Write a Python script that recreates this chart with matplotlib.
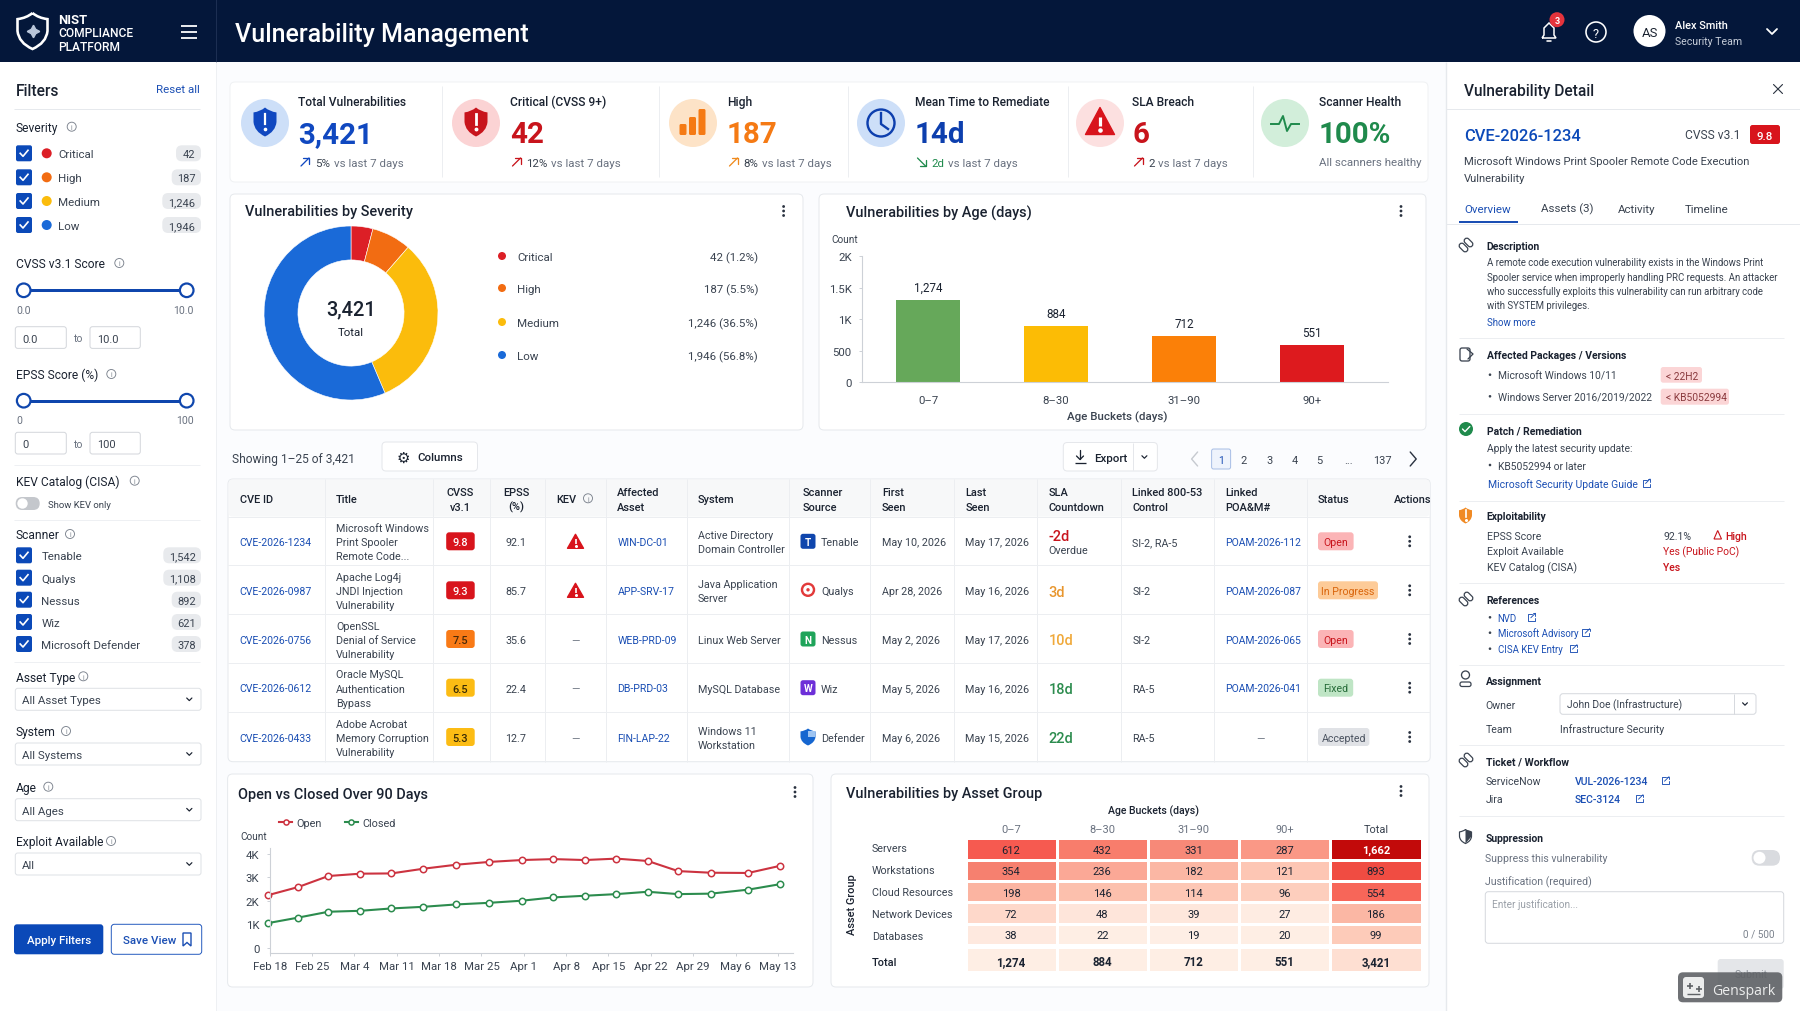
import matplotlib
matplotlib.use("Agg")
import matplotlib.pyplot as plt
from matplotlib.colors import LinearSegmentedColormap
from matplotlib.patches import Circle, FancyBboxPatch, PathPatch, Polygon, Rectangle
from matplotlib.path import Path
from matplotlib.transforms import Affine2D

plt.rcParams["font.family"] = ["Roboto", "DejaVu Sans"]

# ---- data ----
kpi_labels = ["Total Vulnerabilities", "Critical (CVSS 9+)", "High", "Mean Time to Remediate", "SLA Breach", "Scanner Health"]
kpi_values = ["3,421", "42", "187", "14d", "6", "100%"]
kpi_deltas = ["5%", "12%", "8%", "2d", "2", ""]

severity_names = ["Critical", "High", "Medium", "Low"]
severity_counts = ["42", "187", "1,246", "1,946"]
severity_labels = ["42 (1.2%)", "187 (5.5%)", "1,246 (36.5%)", "1,946 (56.8%)"]
severity_drawn = [14.6, 26.4, 116, 203]  # slice sweep as drawn in the picture, degrees
severity_colors = ["#dc1f26", "#f26c12", "#fbbc0c", "#1a6ad8"]

age_buckets = ["0–7", "8–30", "31–90", "90+"]
age_labels = ["1,274", "884", "712", "551"]
age_heights = [1311, 899, 740, 588]  # bar heights as drawn
age_colors = ["#66a85a", "#fcbc05", "#fb8008", "#dd1a1e"]

scanner_names = ["Tenable", "Qualys", "Nessus", "Wiz", "Microsoft Defender"]
scanner_counts = ["1,542", "1,108", "892", "621", "378"]

table_headers = [["CVE ID"], ["Title"], ["CVSS", "v3.1"], ["EPSS", "(%)"], ["KEV"], ["Affected", "Asset"], ["System"],
                 ["Scanner", "Source"], ["First", "Seen"], ["Last", "Seen"], ["SLA", "Countdown"],
                 ["Linked 800-53", "Control"], ["Linked", "POA&M#"], ["Status"], ["Actions"]]
cve_ids = ["CVE-2026-1234", "CVE-2026-0987", "CVE-2026-0756", "CVE-2026-0612", "CVE-2026-0433"]
cve_titles = [["Microsoft Windows", "Print Spooler", "Remote Code..."], ["Apache Log4j", "JNDI Injection", "Vulnerability"],
              ["OpenSSL", "Denial of Service", "Vulnerability"], ["Oracle MySQL", "Authentication", "Bypass"],
              ["Adobe Acrobat", "Memory Corruption", "Vulnerability"]]
cvss_scores = ["9.8", "9.3", "7.5", "6.5", "5.3"]
cvss_colors = ["#d8141c", "#d8141c", "#f97a16", "#fcbc14", "#fcbc14"]
cvss_text = ["white", "white", "#4a2a08", "#3a2c05", "#3a2c05"]
epss_scores = ["92.1", "85.7", "35.6", "22.4", "12.7"]
kev_flags = [True, True, False, False, False]
assets = ["WIN-DC-01", "APP-SRV-17", "WEB-PRD-09", "DB-PRD-03", "FIN-LAP-22"]
systems = [["Active Directory", "Domain Controller"], ["Java Application", "Server"], ["Linux Web Server"],
           ["MySQL Database"], ["Windows 11", "Workstation"]]
row_scanners = ["Tenable", "Qualys", "Nessus", "Wiz", "Defender"]
first_seen = ["May 10, 2026", "Apr 28, 2026", "May 2, 2026", "May 5, 2026", "May 6, 2026"]
last_seen = ["May 17, 2026", "May 16, 2026", "May 17, 2026", "May 16, 2026", "May 15, 2026"]
sla_days = ["-2d", "3d", "10d", "18d", "22d"]
sla_colors = ["#c8141c", "#e8962e", "#f0a93a", "#2c8c4e", "#2c8c4e"]
controls = ["SI-2, RA-5", "SI-2", "SI-2", "RA-5", "RA-5"]
poams = ["POAM-2026-112", "POAM-2026-087", "POAM-2026-065", "POAM-2026-041", "—"]
statuses = ["Open", "In Progress", "Open", "Fixed", "Accepted"]
status_fill = ["#fbb4b6", "#fdcb98", "#fbb4b6", "#bfe5c5", "#e0e2e6"]
status_text = ["#c8141c", "#d9650c", "#c8141c", "#256b38", "#4b5360"]

trend_ticks = ["Feb 18", "Feb 25", "Mar 4", "Mar 11", "Mar 18", "Mar 25", "Apr 1", "Apr 8", "Apr 15", "Apr 22", "Apr 29", "May 6", "May 13"]
trend_tick_days = [0, 7, 14, 21, 28, 35, 42, 49, 56, 63, 70, 77, 84]
trend_days = [-0.2, 4.7, 9.7, 15, 20.1, 25.4, 30.8, 36.3, 41.7, 46.9, 52.1, 57.3, 62.5, 67.5, 72.9, 79.1, 84.3]
trend_open = [2240, 2580, 3050, 3150, 3160, 3360, 3530, 3650, 3730, 3770, 3730, 3790, 3690, 3260, 3190, 3180, 3480]
trend_closed = [1050, 1280, 1530, 1570, 1670, 1740, 1840, 1910, 2000, 2140, 2210, 2280, 2380, 2280, 2300, 2470, 2700]

heat_rows = ["Servers", "Workstations", "Cloud Resources", "Network Devices", "Databases"]
heat_cols = ["0–7", "8–30", "31–90", "90+", "Total"]
heat_values = [[612, 432, 331, 287, 1662],
               [354, 236, 182, 121, 893],
               [198, 146, 114, 96, 554],
               [72, 48, 39, 27, 186],
               [38, 22, 19, 20, 99]]
heat_totals = ["1,274", "884", "712", "551", "3,421"]
heat_total_tone = [25, 25, 25, 25, 60]  # the total row is only lightly shaded

# ---- colours ----
NAVY = "#04173a"
INK = "#1a2230"
BODY = "#3a4350"
GREY = "#6a7280"
LINK = "#1b4fb4"
ROYAL = "#0b49b8"
EDGE = "#e6e9ed"
RED = "#c8141c"

fig = plt.figure(figsize=(18, 10.12), dpi=100, facecolor="#fbfcfe")
ui = fig.add_axes([0, 0, 1, 1])
ui.set_xlim(0, 1800)
ui.set_ylim(1012, 0)
ui.axis("off")
rend = fig.canvas.get_renderer()


def txt(x, y, s, px=11, color=INK, weight="normal", ha="left", **kw):
    # baseline placement, so brackets and descenders do not move a line up or down
    if "rotation" in kw:
        return ui.text(x, y + 1, s, fontsize=px * 0.72, color=color, fontweight=weight, ha=ha, va="center", **kw)
    return ui.text(x, y + 1 + 0.36 * px, s, fontsize=px * 0.72, color=color, fontweight=weight, ha=ha, va="baseline", **kw)


def rrect(x0, y0, x1, y1, r=3, fc="white", ec="none", lw=1, **kw):
    p = FancyBboxPatch((x0, y0), x1 - x0, y1 - y0, boxstyle=f"round,pad=0,rounding_size={r}",
                       fc=fc, ec=ec, lw=lw * 0.72, **kw)
    ui.add_patch(p)
    return p


def hline(x0, x1, y, color=EDGE, lw=1):
    ui.plot([x0, x1], [y, y], color=color, lw=lw * 0.72, solid_capstyle="butt")


def vline(x, y0, y1, color=EDGE, lw=1):
    ui.plot([x, x], [y0, y1], color=color, lw=lw * 0.72, solid_capstyle="butt")


def stroke(xs, ys, color, lw=1.5):
    ui.plot(xs, ys, color=color, lw=lw * 0.72, solid_capstyle="round", solid_joinstyle="round")


def dot(x, y, r, fc, ec="none", lw=1, z=3):
    ui.add_patch(Circle((x, y), r, fc=fc, ec=ec, lw=lw * 0.72, zorder=z))


def chevron(x, y, s=3, color=INK, lw=1.5):
    stroke([x - s, x, x + s], [y - s * 0.5, y + s * 0.5, y - s * 0.5], color, lw)


def info(x, y, r=4.5):
    dot(x, y, r, "none", "#7b828d", 0.9)
    txt(x, y - 1, "i", r * 1.5, "#7b828d", ha="center")


def kebab(x, y):
    for d in (-4.5, 0, 4.5):
        dot(x, y + d, 1.4, "#2a3240")


def ext(x, y, color=LINK):
    stroke([x + 1, x - 3.5, x - 3.5, x + 3.5, x + 3.5], [y - 3.5, y - 3.5, y + 3.5, y + 3.5, y + 0.5], color, 0.9)
    stroke([x - 0.5, x + 4], [y + 0.5, y - 4], color, 0.9)
    stroke([x + 1.5, x + 4, x + 4], [y - 4, y - 4, y - 1.5], color, 0.9)


def shield(cx, cy, w, h, fc, ec="none", lw=1, z=3):
    v = [(0, -.5), (.2, -.36), (.5, -.33), (.5, 0), (.46, .33), (0, .5), (-.46, .33), (-.5, 0), (-.5, -.33), (-.2, -.36), (0, -.5)]
    c = [Path.MOVETO, Path.CURVE3, Path.CURVE3, Path.LINETO, Path.CURVE3, Path.CURVE3, Path.CURVE3, Path.CURVE3, Path.LINETO, Path.CURVE3, Path.CURVE3]
    ui.add_patch(PathPatch(Path([(cx + a * w, cy + b * h) for a, b in v], c), fc=fc, ec=ec, lw=lw * 0.72, zorder=z))


def warn(cx, cy, w, h, fc="#d8141c", mark="white"):
    ui.add_patch(Polygon([(cx, cy - h / 2), (cx + w / 2, cy + h / 2), (cx - w / 2, cy + h / 2)], closed=True,
                         fc=fc, ec=fc, lw=1, joinstyle="round", zorder=3))
    ui.plot([cx, cx], [cy - h * 0.16, cy + h * 0.17], color=mark, lw=h * 0.085, zorder=4, solid_capstyle="butt")
    ui.plot([cx], [cy + h * 0.34], "o", color=mark, ms=h * 0.085, zorder=4)


def check(x, y):
    rrect(x - 8, y - 8, x + 8, y + 8, 2, fc=ROYAL, zorder=3)
    ui.plot([x - 3.8, x - 1, x + 4], [y, y + 3, y - 3], color="white", lw=1.2, zorder=4)


def pill(right, y, s, left):
    rrect(left, y - 7, right, y + 9, 6, fc="#e8eaed")
    txt((left + right) / 2, y, s, 11, BODY, ha="center")


def axes_px(l, t, r, b):
    a = fig.add_axes([l / 1800, 1 - b / 1012, (r - l) / 1800, (b - t) / 1012])
    a.patch.set_alpha(0)
    return a


def style_axis(a):
    a.spines[["top", "right"]].set_visible(False)
    a.spines[["left", "bottom"]].set_color("#cdd1d7")
    a.tick_params(colors="#cdd1d7", labelcolor=BODY, labelsize=8.2, length=2.5, width=0.7)


# ---- header ----
ui.add_patch(Rectangle((0, 0), 1800, 62.5, fc=NAVY, ec="none"))
vline(216, 0, 62.5, "#1c2e52")
shield(32.5, 32, 30, 36, NAVY, "white", 2.6)
ui.plot([32.5], [32], marker=(4, 1, 0), color="#b9c6da", ms=9, zorder=4)
stroke([23, 29, 32, 35, 42], [34, 34, 30, 36, 34], "#b9c6da", 1)
txt(58, 18, "NIST", 13, "white", "bold")
txt(58, 32, "COMPLIANCE", 12, "white", "medium")
txt(58, 46, "PLATFORM", 12, "white", "medium")
for d in (-6, 0, 6):
    hline(181, 197, 33 + d, "white", 1.8)
txt(235, 32, "Vulnerability Management", 25, "white", "medium")

# bell, help and user block
ui.add_patch(PathPatch(Path([(1542, 39), (1544, 36), (1544, 29), (1549, 24), (1554, 29), (1554, 36), (1556, 39), (1542, 39)]),
                       fc="none", ec="white", lw=1.1))
stroke([1547, 1551], [42, 42], "white", 1.6)
dot(1557, 20.7, 7.5, "#e5333c")
txt(1557, 19.7, "3", 9, "white", "bold", ha="center", zorder=5)
dot(1596, 33, 10, "none", "white", 1.6)
txt(1596, 32, "?", 13, "white", ha="center")
dot(1649.5, 32, 16, "white")
txt(1649.5, 31.5, "AS", 13, "#1a2230", ha="center", zorder=5)
txt(1675, 24, "Alex Smith", 11, "white", "medium")
txt(1675, 40, "Security Team", 10.5, "#c5ccd8")
chevron(1772, 32.5, 5, "white", 1.8)

# ---- left filter panel ----
ui.add_patch(Rectangle((0, 62.5), 216, 950, fc="white", ec="none"))
vline(216, 62.5, 1012, "#eef0f3")
txt(16, 89, "Filters", 15.5, INK, "medium")
txt(200, 88, "Reset all", 11.5, LINK, ha="right")
hline(14, 200, 110)

txt(16, 126.7, "Severity", 12, INK)
info(71.7, 127.7)
for y, name, n, col, left in zip([154.3, 178.3, 202, 226], severity_names, severity_counts, severity_colors, [176, 171.7, 162.3, 162.3]):
    check(24, y)
    dot(46.7, y, 5, col)
    txt(58, y - 1, name, 11.5, BODY)
    pill(201, y - 1, n, left)

for y, label, ix in [(264, "CVSS v3.1 Score", 119.3), (375, "EPSS Score (%)", 111.3), (481.7, "KEV Catalog (CISA)", 134.7)]:
    txt(16, y - 1, label, 12, INK)
    info(ix, y)
for y, lo, hi, ly, ty0 in [(291.3, "0.0", "10.0", 310.7, 327.7), (401.7, "0", "100", 420.3, 433.3)]:
    hline(23.7, 186.7, y, "#0f46ad", 3)
    dot(23.7, y, 6.8, "white", "#0f46ad", 2.2)
    dot(186.7, y, 6.8, "white", "#0f46ad", 2.2)
    txt(16, ly - 1, lo, 10.5, GREY)
    txt(194, ly - 1, hi, 10.5, GREY, ha="right")
    rrect(15.3, ty0, 66.3, ty0 + 21.7, 2.5, ec="#d4d7dc")
    rrect(90, ty0, 140.3, ty0 + 21.7, 2.5, ec="#d4d7dc")
    txt(22.7, ty0 + 10, lo, 11, BODY)
    txt(77.7, ty0 + 10, "to", 10.5, GREY, ha="center")
    txt(97.3, ty0 + 10, hi, 11, BODY)
hline(14, 200, 465.7, "#eef0f3")
rrect(15.7, 498, 39.7, 511, 6.5, fc="#c4c7cc")
dot(22.5, 504.5, 5.2, "white")
txt(47.7, 503.7, "Show KEV only", 9.5, BODY)
hline(14, 200, 520.7, "#eef0f3")

txt(16, 534, "Scanner", 12, INK)
info(70, 535)
for y, name, n, left in zip([556.3, 578.7, 600.7, 623, 645], scanner_names, scanner_counts, [163.3, 163.3, 171.7, 171.7, 171.7]):
    check(24, y)
    txt(41.3, y - 1, name, 11.5, BODY)
    pill(201, y - 1, n, left)
hline(14, 200, 663.3, "#eef0f3")

for y, label, ix, val in [(677.3, "Asset Type", 83.3, "All Asset Types"), (732, "System", 66, "All Systems"),
                          (787.7, "Age", 48.3, "All Ages"), (842, "Exploit Available", 111, "All")]:
    txt(16, y - 1, label, 12, INK)
    info(ix, y)
    rrect(15.3, y + 12, 201, y + 34, 2.5, ec="#dfe2e6")
    txt(22, y + 22, val, 11.5, BODY)
    chevron(189.3, y + 23, 2.6, INK, 1.2)

rrect(14, 925.3, 103.3, 955.3, 3, fc=ROYAL)
txt(58.7, 939.3, "Apply Filters", 11.5, "white", "medium", ha="center")
rrect(111.3, 925.3, 201.7, 955.3, 3, ec="#2a5fc0")
txt(122.7, 939.3, "Save View", 11.5, LINK, "medium")
ui.add_patch(Polygon([(183, 934), (191, 934), (191, 947), (187, 943.5), (183, 947)], closed=True, fc="none", ec=LINK, lw=1))

# ---- KPI strip ----
rrect(230, 83, 1428, 183, 5, ec="#f0f2f4")
for x in [442, 659, 848, 1068, 1253]:
    vline(x, 87, 178, "#eceef1")
kpi_x = [298.5, 510, 727, 915, 1132, 1319]
circle_x = [265, 476, 693, 881, 1100, 1285]
circle_fill = ["#cddff8", "#fbd3d4", "#fde3c7", "#cddff8", "#fce0e0", "#d2eeda"]
value_col = ["#1048c0", "#c8141c", "#f57a14", "#0d3fae", "#c8141c", "#1f8a4c"]
delta_col = ["#1048c0", "#c8141c", "#ef8a1e", "#1f8a4c", "#c8141c", ""]
for i in range(6):
    dot(circle_x[i], 124, 24, circle_fill[i], z=2)
    txt(kpi_x[i], 100.7, kpi_labels[i], 12, INK, "medium")
    txt(kpi_x[i], 131, kpi_values[i], 29.5, value_col[i], "bold")
    if kpi_deltas[i]:
        ax0 = kpi_x[i] + 1.5
        xs = [ax0 + 1, ax0 + 9]
        if i == 3:
            stroke(xs, [159, 167], delta_col[i], 1.3)
            stroke([ax0 + 3, ax0 + 9, ax0 + 9], [167, 167, 161], delta_col[i], 1.3)
        else:
            stroke(xs, [167, 159], delta_col[i], 1.3)
            stroke([ax0 + 3, ax0 + 9, ax0 + 9], [159, 159, 165], delta_col[i], 1.3)
        t = txt(ax0 + 15, 162, kpi_deltas[i], 11.5, delta_col[i] if i == 3 else BODY)
        x_end = ui.transData.inverted().transform(t.get_window_extent(rend))[1][0]
        txt(x_end + 3.5, 162, "vs last 7 days", 11.5, GREY)
txt(kpi_x[5], 161, "All scanners healthy", 11.5, GREY)

shield(265, 123, 23, 29, "#1048c0", z=4)
ui.plot([265, 265], [115, 125], color="white", lw=1.6, zorder=5)
ui.plot([265], [129.5], "o", color="white", ms=1.6, zorder=5)
shield(476, 123, 23, 29, "#c8141c", z=4)
ui.plot([476, 476], [115, 125], color="white", lw=2, zorder=5)
ui.plot([476], [129.5], "o", color="white", ms=1.8, zorder=5)
for x, top in zip([683, 692.5, 702], [125, 118, 110]):
    rrect(x - 3.5, top, x + 3.5, 136, 1.5, fc="#f57a14", zorder=4)
dot(881, 124, 13.5, "none", "#0d3fae", 2.4, z=4)
ui.plot([881, 881, 888], [114, 125, 130], color="#0d3fae", lw=1.7, zorder=5)
warn(1100, 122, 29, 27)
ui.plot([1271, 1279, 1283, 1287, 1291, 1299], [125, 125, 117, 132, 125, 125], color="#1f8a4c", lw=1.4, zorder=5)

# ---- severity donut ----
rrect(230, 195, 803, 431, 5, ec=EDGE)
txt(245, 210, "Vulnerabilities by Severity", 14.5, INK, "medium")
kebab(783.6, 212)
ax_donut = axes_px(351 - 87, 314 - 87, 351 + 87, 314 + 87)
ax_donut.pie(severity_drawn, colors=severity_colors, startangle=90, counterclock=False, radius=1,
             wedgeprops=dict(width=0.39, edgecolor="white", linewidth=0.4))
ax_donut.set_xlim(-1, 1)
ax_donut.set_ylim(-1, 1)
txt(351, 307, "3,421", 20, INK, "medium", ha="center")
txt(351, 331, "Total", 11.5, INK, ha="center")
for y, name, lab, col in zip([257, 289, 323, 356], severity_names, severity_labels, severity_colors):
    dot(502, y, 4, col)
    txt(517, y - 1, name, 11.5, BODY)
    txt(758, y - 1, lab, 11.5, BODY, ha="right")

# ---- age bars ----
rrect(819, 195, 1426, 431, 5, ec=EDGE)
txt(846, 211, "Vulnerabilities by Age (days)", 14.5, INK, "medium")
kebab(1401, 212)
txt(845, 238, "Count", 10, BODY, ha="center")
ax_age = axes_px(862, 257.3, 1388, 383.3)
ax_age.bar(range(4), age_heights, width=0.5, color=age_colors)
ax_age.set_xlim(-0.516, 3.594)
ax_age.set_ylim(0, 2000)
ax_age.set_yticks([0, 500, 1000, 1500, 2000], ["0", "500", "1K", "1.5K", "2K"])
ax_age.set_xticks(range(4), age_buckets)
style_axis(ax_age)
ax_age.tick_params(axis="x", length=0, pad=9)
ax_age.tick_params(axis="y", pad=5)
for i, lab in enumerate(age_labels):
    ax_age.annotate(lab, (i, age_heights[i]), xytext=(0, 10), textcoords="offset points", ha="center", va="center_baseline",
                    fontsize=8.4, color=INK)
txt(1117, 415, "Age Buckets (days)", 11.5, BODY, "medium", ha="center")

# ---- table toolbar ----
txt(232, 458, "Showing 1–25 of 3,421", 12, BODY)
rrect(382, 443, 477.5, 472, 4, ec="#e5e7eb")
txt(403, 456, "⚙", 15, INK, ha="center", family="DejaVu Sans")
txt(417, 456, "Columns", 11.5, INK, "medium")
rrect(1063.3, 443.5, 1157.4, 472, 4, ec="#e5e7eb")
stroke([1080, 1080], [451, 460], INK, 1.3)
stroke([1076.5, 1080, 1083.5], [457, 460.5, 457], INK, 1.3)
hline(1074.5, 1085.5, 464, INK, 1.3)
txt(1093.7, 457, "Export", 11.5, INK, "medium")
vline(1132.9, 444, 471, "#e5e7eb")
chevron(1144.4, 458, 2.5, INK, 1.2)
stroke([1197.6, 1191.6, 1197.6], [453, 460, 467], "#c6cad0", 1.4)
rrect(1211.6, 450, 1230.6, 470, 2, fc="#eef3fc", ec="#a9bfe6")
txt(1221, 459, "1", 10.5, LINK, ha="center")
for x, s in zip([1244, 1269.3, 1295, 1319.5, 1348.4, 1382], ["2", "3", "4", "5", "...", "137"]):
    txt(x, 459, s, 11, BODY, ha="center")
stroke([1410.2, 1416.2, 1410.2], [453, 460, 467], "#2a3240", 1.4)

# ---- findings table ----
TABLE_R = 1430.2
rrect(228, 480, TABLE_R, 762.7, 5, ec=EDGE)
ui.add_patch(FancyBboxPatch((228.5, 480.5), TABLE_R - 229, 37, boxstyle="round,pad=0,rounding_size=4", fc="#f7f8f9", ec="none"))
col_lines = [325, 432.7, 489.7, 544.6, 606.3, 686.6, 788.6, 870, 953.8, 1036.8, 1121.4, 1213.6, 1306.5]
row_lines = [517.7, 566.3, 615.3, 663.7, 713]
row_y = [542.3, 591.3, 640, 688.7, 738]
for x in col_lines:
    vline(x, 480, 762.7, "#eceef1")
for y in row_lines:
    hline(228, TABLE_R, y, "#eceef1")
head_x = [239.8, 336, 460.4, 516.6, 556, 617.4, 697.7, 802.4, 881.8, 965.2, 1048.3, 1132.5, 1225, 1318, 1393.5]
for i, (x, h) in enumerate(zip(head_x, table_headers)):
    ha = "center" if i in (2, 3) else "left"
    if len(h) == 2:
        txt(x, 490.7, h[0], 11, INK, "medium", ha=ha)
        txt(x, 505.7, h[1], 11, INK, "medium", ha=ha)
    else:
        txt(x, 498.3, h[0], 11, INK, "medium", ha=ha)
info(588, 499.3)

status_w = [35.6, 60, 35.6, 35.2, 51.4]
for i, y in enumerate(row_y):
    y0 = y - 1
    txt(239.8, y0, cve_ids[i], 10.5, LINK)
    for k, line in enumerate(cve_titles[i]):
        txt(336, y0 + (k - 1) * 14.1, line, 10.8, BODY)
    rrect(446.2, y - 9, 474.7, y + 9, 3, fc=cvss_colors[i])
    txt(460.4, y0, cvss_scores[i], 11, cvss_text[i], "medium", ha="center")
    txt(516, y0, epss_scores[i], 10.8, BODY, ha="center")
    if kev_flags[i]:
        warn(575.5, y, 16, 14)
    else:
        txt(575.5, y0, "—", 10.8, GREY, ha="center")
    txt(617.4, y0, assets[i], 10.5, LINK)
    lines = systems[i]
    for k, line in enumerate(lines):
        txt(697.7, y0 + (k - (len(lines) - 1) / 2) * 14.1, line, 10.8, BODY)
    txt(821, y0, row_scanners[i], 10.8, BODY)
    txt(881.8, y0, first_seen[i], 10.8, BODY)
    txt(965.2, y0, last_seen[i], 10.8, BODY)
    if i == 0:
        txt(1048.3, y0 - 6.5, sla_days[i], 14.5, sla_colors[i], "medium")
        txt(1048.3, y0 + 8, "Overdue", 10.8, BODY)
    else:
        txt(1048.3, y0, sla_days[i], 14.5, sla_colors[i], "medium")
    txt(1132.5, y0, controls[i], 10.8, BODY)
    if poams[i] == "—":
        txt(1260.2, y0, "—", 10.8, GREY, ha="center")
    else:
        txt(1225, y0, poams[i], 10.4, LINK)
    rrect(1318, y - 9, 1318 + status_w[i], y + 9, 3, fc=status_fill[i])
    txt(1318 + status_w[i] / 2, y0, statuses[i], 10.5, status_text[i], ha="center")
    kebab(1409.7, y)

# scanner badges
for y, col, s in zip(row_y[:1] + row_y[2:4], ["#0f46ad", "#1fa45a", "#6d2fd8"], ["T", "N", "W"]):
    rrect(800.5, y - 7.5, 815.5, y + 7.5, 2.5, fc=col, zorder=3)
    txt(808, y - 1, s, 10, "white", "bold", ha="center", zorder=4)
dot(808, row_y[1] - 0.5, 6, "white", "#e23a3a", 2.4)
dot(808, row_y[1] - 0.5, 1.7, "#e23a3a", z=4)
shield(808, row_y[4], 15, 17, "#1566d0")
ui.add_patch(Rectangle((808, row_y[4] - 6), 6.5, 6, fc="#9dc4f2", ec="none", zorder=4))

# ---- open vs closed ----
rrect(227.6, 775, 813, 988, 5, ec=EDGE)
txt(238.4, 793, "Open vs Closed Over 90 Days", 14.5, INK, "medium")
kebab(795, 793)
RED_LINE = "#cc3340"
GREEN_LINE = "#2c8c4e"
ax_trend = axes_px(269.7, 848.7, 793, 953.7)
ax_trend.plot(trend_days, trend_open, color=RED_LINE, lw=1.5, marker="o", ms=4.6, mfc="white", mew=1.1, clip_on=False, label="Open")
ax_trend.plot(trend_days, trend_closed, color=GREEN_LINE, lw=1.5, marker="o", ms=4.6, mfc="white", mew=1.1, clip_on=False, label="Closed")
ax_trend.set_xlim(0, 86.5)
ax_trend.set_ylim(-213, 4255)
ax_trend.set_yticks([0, 1000, 2000, 3000, 4000], ["0", "1K", "2K", "3K", "4K"])
ax_trend.set_xticks(trend_tick_days, trend_ticks)
style_axis(ax_trend)
ax_trend.tick_params(axis="x", pad=3.5)
ax_trend.tick_params(axis="y", pad=5)
ax_trend.legend(loc="lower left", bbox_to_anchor=(0.018, 1.19), ncol=2, frameon=False, fontsize=7.8, handlelength=1.2,
                columnspacing=2.1, handletextpad=0.4, borderpad=0, borderaxespad=0, labelcolor=BODY, markerscale=0.8)
txt(240.7, 835.7, "Count", 10, BODY)

# ---- asset group heatmap ----
rrect(831, 775, 1429, 988, 5, ec=EDGE)
txt(846, 791.7, "Vulnerabilities by Asset Group", 14.5, INK, "medium")
kebab(1401, 792)
txt(1154, 809.7, "Age Buckets (days)", 10.5, INK, "medium", ha="center")
heat_nodes = [(0, "#ffefe6"), (0.012, "#feeee4"), (0.03, "#fee3d8"), (0.06, "#fdcab8"), (0.12, "#fbb3a0"), (0.17, "#fa9a88"),
              (0.21, "#f6806f"), (0.26, "#f87d6c"), (0.37, "#f65a50"), (0.54, "#f04c42"), (1, "#c20a0a")]
heat_cmap = LinearSegmentedColormap.from_list("heat", heat_nodes)
ax_heat = axes_px(965.5, 839.3, 1421.5, 946)
ax_heat.pcolormesh(heat_values, cmap=heat_cmap, vmin=0, vmax=1662, edgecolors="white", linewidth=1)
ax_heat.invert_yaxis()
ax_heat.axis("off")
for r, row in enumerate(heat_values):
    for c, v in enumerate(row):
        ax_heat.text(c + 0.5, r + 0.5, f"{v:,}", ha="center", va="center_baseline", fontsize=8,
                     color="white" if v > 1000 else INK, fontweight="bold" if v > 1000 else "normal")
ax_total = axes_px(965.5, 948, 1421.5, 973.3)
ax_total.pcolormesh([heat_total_tone], cmap=heat_cmap, vmin=0, vmax=1662, edgecolors="white", linewidth=1)
ax_total.axis("off")
for c, s in enumerate(heat_totals):
    ax_total.text(c + 0.5, 0.5, s, ha="center", va="center_baseline", fontsize=8.3, color=INK, fontweight="bold")
for c, s in enumerate(heat_cols):
    txt(965.5 + 91.2 * (c + 0.5), 827.7, s, 11, GREY if c < 4 else BODY, ha="center")
for y, s in zip([847.7, 870, 892, 914, 936], heat_rows):
    txt(871.8, y - 1, s, 10.8, BODY)
txt(871.8, 960.7, "Total", 11, INK, "medium")
txt(851.6, 904, "Asset Group", 11, INK, "medium", ha="center", rotation=90)

# ---- detail panel ----
ui.add_patch(Rectangle((1446, 62.5), 354, 950, fc="white", ec="none"))
vline(1445.5, 62.5, 1012, "#e6e9ed", 1.4)
txt(1464, 89, "Vulnerability Detail", 15.5, INK, "medium")
stroke([1773.5, 1782.5], [85.5, 94.5], "#2a3240", 1.1)
stroke([1773.5, 1782.5], [94.5, 85.5], "#2a3240", 1.1)
hline(1446, 1800, 110)
txt(1464, 133.7, "CVE-2026-1234", 16.5, ROYAL, "medium")
txt(1740, 134, "CVSS v3.1", 12, BODY, ha="right")
rrect(1750, 126, 1780, 145, 2.5, fc="#d8141c")
txt(1765, 134.5, "9.8", 11.5, "white", "medium", ha="center")
txt(1464, 160.3, "Microsoft Windows Print Spooler Remote Code Execution", 11.3, BODY)
txt(1464, 177, "Vulnerability", 11.3, BODY)
for x, s, c in zip([1464.3, 1540.7, 1618, 1685], ["Overview", "Assets (3)", "Activity", "Timeline"], [LINK, BODY, BODY, BODY]):
    txt(x, 207.7, s, 11.5, c)
hline(1446, 1800, 224.5)
hline(1459, 1517.7, 223.3, LINK, 2)


def section(y, s, x=1486.7):
    txt(x, y - 1, s, 10.4, INK, "bold")


def link_icon(y):
    # two rotated loops for the chain glyph
    for cx, cy in [(1463.5, y + 2.5), (1468.5, y - 2.5)]:
        tr = Affine2D().rotate_deg_around(cx, cy, 45) + ui.transData
        ui.add_patch(FancyBboxPatch((cx - 5, cy - 2.6), 10, 5.2, boxstyle="round,pad=0,rounding_size=2.6", fc="none",
                                    ec="#3a4350", lw=0.9, transform=tr))


divider_y = [339.3, 414.7, 502.3, 584.3, 666, 745.7, 817.3]
for y in divider_y:
    hline(1458.5, 1784, y, "#eceef1")

link_icon(246)
section(246, "Description")
for y, s in zip([263, 277.7, 292, 306], ["A remote code execution vulnerability exists in the Windows Print",
                                         "Spooler service when improperly handling PRC requests. An attacker",
                                         "who successfully exploits this vulnerability can run arbitrary code",
                                         "with SYSTEM privileges."]):
    txt(1486.7, y - 1, s, 9.6, BODY)
txt(1486.7, 321.3, "Show more", 9.8, LINK)

rrect(1460, 349, 1470, 362, 2, ec="#3a4350", lw=1.3)
stroke([1467, 1473, 1468], [350, 355, 360], "#3a4350", 1.3)
section(355.7, "Affected Packages / Versions")
for y, s in zip([375.7, 397.3], ["Microsoft Windows 10/11", "Windows Server 2016/2019/2022"]):
    dot(1490, y, 1.3, BODY)
    txt(1498, y - 1, s, 10.2, BODY)
rrect(1660.7, 368, 1702, 383.7, 2.5, fc="#fbd5d6")
txt(1666, 375, "< 22H2", 10.2, "#8a3a3e")
rrect(1660.7, 389.7, 1729, 405.7, 2.5, fc="#fbd5d6")
txt(1666, 396.7, "< KB5052994", 10.2, "#8a3a3e")

dot(1466, 430, 7, "#1f8a4c")
stroke([1462.5, 1465, 1469.8], [430, 432.6, 427.5], "white", 1.4)
ui.lines[-1].set_zorder(5)
section(430.3, "Patch / Remediation")
txt(1486.7, 447.7, "Apply the latest security update:", 10.2, BODY)
dot(1490, 466, 1.3, BODY)
txt(1498, 465, "KB5052994 or later", 10.2, BODY)
txt(1488, 483, "Microsoft Security Update Guide", 10.4, LINK)
ext(1646, 484)

shield(1465.5, 516.5, 13, 16, "#f08a24")
ui.plot([1465.5, 1465.5], [511, 517.5], color="white", lw=1.2, zorder=5)
ui.plot([1465.5], [520.8], "o", color="white", ms=1.2, zorder=5)
section(516.7, "Exploitability")
for y, s in zip([536, 551.7, 567.7], ["EPSS Score", "Exploit Available", "KEV Catalog (CISA)"]):
    txt(1486.7, y - 1, s, 10.5, BODY)
txt(1663, 535, "92.1%", 10.5, BODY)
ui.add_patch(Polygon([(1717.7, 531.5), (1721.5, 540), (1714, 540)], closed=True, fc="none", ec=RED, lw=0.8, zorder=4))
txt(1725, 535, "High", 10.5, RED, "medium")
txt(1663, 550.7, "Yes (Public PoC)", 10.2, RED)
txt(1663, 566.7, "Yes", 10.5, RED, "medium")

link_icon(600)
section(600.3, "References")
for y, s, ex in zip([618.3, 633.7, 649.7], ["NVD", "Microsoft Advisory", "CISA KEV Entry"], [1531.3, 1585.7, 1573]):
    dot(1490, y, 1.3, BODY)
    txt(1497.7, y - 1, s, 9.6, LINK)
    ext(ex, y)

dot(1465.5, 676, 4, "none", "#3a4350", 1.3)
ui.add_patch(FancyBboxPatch((1460, 683), 11, 4.5, boxstyle="round,pad=0,rounding_size=2", fc="none", ec="#3a4350", lw=0.9))
section(681.7, "Assignment", 1486)
txt(1485.7, 704, "Owner", 10.5, BODY)
rrect(1560, 694.7, 1756, 715.3, 3, ec="#d6d9de")
txt(1566.7, 704, "John Doe (Infrastructure)", 10.2, BODY)
vline(1733.7, 695, 715, "#d6d9de")
chevron(1745, 705, 2.4, INK, 1.2)
txt(1485.7, 728, "Team", 10.5, BODY)
txt(1560, 728, "Infrastructure Security", 10.5, BODY)

link_icon(761)
section(761.7, "Ticket / Workflow", 1486)
txt(1485.7, 780.7, "ServiceNow", 10.5, BODY)
txt(1485.7, 798.7, "Jira", 10.5, BODY)
txt(1575, 780.7, "VUL-2026-1234", 10.5, LINK, "medium")
txt(1575, 798.7, "SEC-3124", 10.5, LINK, "medium")
ext(1665, 781.7)
ext(1639, 799.7)

shield(1465.5, 837.5, 12, 14, "none", "#3a4350", 1.2)
ui.add_patch(Polygon([(1465.5, 831), (1471, 832), (1471, 838), (1465.5, 844.5)], closed=True, fc="#3a4350", ec="none"))
section(838.3, "Suppression", 1485.5)
txt(1485.3, 857.7, "Suppress this vulnerability", 10.5, GREY)
rrect(1751.7, 851, 1780, 866.7, 7.8, fc="#d9dbdf")
dot(1759.5, 858.8, 6, "white")
txt(1485.3, 881, "Justification (required)", 10.5, GREY)
rrect(1485.3, 892.7, 1783.7, 944.3, 3, ec="#d6d9de")
txt(1492.3, 903.3, "Enter justification...", 10, "#9aa0a8")
txt(1774.7, 932.7, "0 / 500", 10, "#7b828d", ha="right")
rrect(1717.7, 960, 1783.7, 990, 3, fc="#e4e6e9")
txt(1750.7, 973, "Submit", 10.5, "#8a8f97", ha="center")

# watermark
rrect(1678, 973.3, 1782.3, 1003.3, 5, fc="#5f6266", alpha=0.9, zorder=6)
rrect(1683, 978, 1704, 999, 3, fc="#eceded", zorder=7)
ui.plot([1690, 1699], [987, 990], "+", color="#5f6266", ms=5, mew=1.2, zorder=8)
hline(1687, 1700, 995, "#5f6266", 1.4)
ui.lines[-1].set_zorder(8)
txt(1711.7, 988.5, "Genspark", 14, "#eceded", family="Open Sans", zorder=7)

fig.savefig("out.png", dpi=100)
